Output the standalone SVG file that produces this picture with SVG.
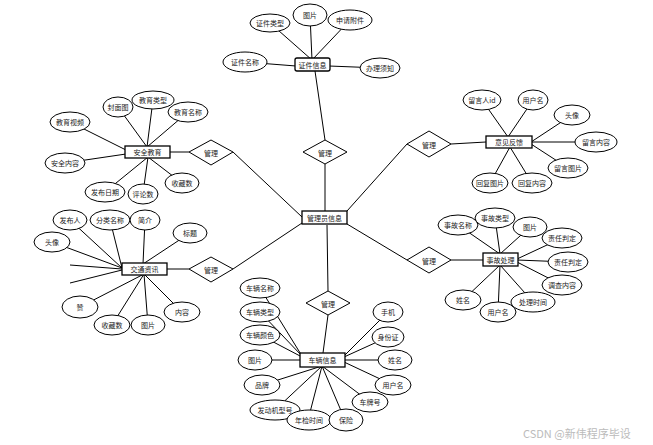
<svg xmlns="http://www.w3.org/2000/svg" width="653" height="445" viewBox="0 0 653 445">
<style>
text{font-family:"Noto Sans CJK SC","Noto Sans",sans-serif;font-size:7px;fill:#222;text-anchor:middle;dominant-baseline:central}
.l{stroke:#000;stroke-width:1;fill:none}
.e{fill:#fff;stroke:#000;stroke-width:1}
.r{fill:#fff;stroke:#000;stroke-width:1.3}
.d{fill:#fff;stroke:#000;stroke-width:1}
.wm{font-family:"Noto Sans CJK SC",sans-serif;font-size:11px;fill:#bbb;text-anchor:start}
</style>
<rect width="653" height="445" fill="#fff"/>
<g id="connectors">
<!-- main -->
<line class="l" x1="315" y1="71" x2="325" y2="140"/>
<line class="l" x1="325" y1="164" x2="325" y2="211"/>
<line class="l" x1="170" y1="152" x2="189" y2="152"/>
<line class="l" x1="233" y1="152" x2="302" y2="217"/>
<line class="l" x1="167" y1="269" x2="189" y2="269"/>
<line class="l" x1="233" y1="269" x2="302" y2="223"/>
<line class="l" x1="347" y1="211" x2="407" y2="144"/>
<line class="l" x1="451" y1="144" x2="486" y2="142"/>
<line class="l" x1="347" y1="224" x2="407" y2="260"/>
<line class="l" x1="451" y1="260" x2="483" y2="260"/>
<line class="l" x1="327" y1="225" x2="328" y2="291"/>
<line class="l" x1="328" y1="315" x2="323" y2="353"/>
<!-- 证件信息 attrs -->
<line class="l" x1="270" y1="23" x2="312" y2="60"/>
<line class="l" x1="310" y1="15" x2="312" y2="60"/>
<line class="l" x1="350" y1="20" x2="312" y2="60"/>
<line class="l" x1="245" y1="62" x2="296" y2="66"/>
<line class="l" x1="380" y1="68" x2="329" y2="66"/>
<!-- 安全教育 attrs -->
<line class="l" x1="118" y1="107" x2="147" y2="147"/>
<line class="l" x1="153" y1="100" x2="147" y2="147"/>
<line class="l" x1="188" y1="112" x2="147" y2="147"/>
<line class="l" x1="70" y1="122" x2="126" y2="150"/>
<line class="l" x1="65" y1="163" x2="126" y2="154"/>
<line class="l" x1="105" y1="192" x2="148" y2="157"/>
<line class="l" x1="143" y1="193" x2="148" y2="157"/>
<line class="l" x1="182" y1="183" x2="148" y2="157"/>
<!-- 交通资讯 attrs -->
<line class="l" x1="70" y1="220" x2="122" y2="268"/>
<line class="l" x1="110" y1="220" x2="122" y2="268"/>
<line class="l" x1="145" y1="220" x2="143" y2="264"/>
<line class="l" x1="190" y1="233" x2="143" y2="264"/>
<line class="l" x1="52" y1="242" x2="122" y2="268"/>
<line class="l" x1="70" y1="265" x2="122" y2="269"/>
<line class="l" x1="70" y1="283" x2="122" y2="270"/>
<line class="l" x1="80" y1="307" x2="144" y2="274"/>
<line class="l" x1="112" y1="325" x2="144" y2="274"/>
<line class="l" x1="148" y1="325" x2="144" y2="274"/>
<line class="l" x1="182" y1="312" x2="144" y2="274"/>
<!-- 意见反馈 attrs -->
<line class="l" x1="482" y1="100" x2="508" y2="137"/>
<line class="l" x1="533" y1="100" x2="508" y2="137"/>
<line class="l" x1="572" y1="115" x2="531" y2="142"/>
<line class="l" x1="595" y1="142" x2="531" y2="142"/>
<line class="l" x1="568" y1="168" x2="531" y2="144"/>
<line class="l" x1="490" y1="183" x2="510" y2="147"/>
<line class="l" x1="532" y1="183" x2="510" y2="147"/>
<!-- 事故处理 attrs -->
<line class="l" x1="458" y1="225" x2="500" y2="254"/>
<line class="l" x1="495" y1="218" x2="500" y2="254"/>
<line class="l" x1="530" y1="227" x2="500" y2="254"/>
<line class="l" x1="562" y1="238" x2="517" y2="259"/>
<line class="l" x1="568" y1="262" x2="517" y2="260"/>
<line class="l" x1="562" y1="285" x2="517" y2="262"/>
<line class="l" x1="533" y1="302" x2="500" y2="265"/>
<line class="l" x1="498" y1="312" x2="500" y2="265"/>
<line class="l" x1="463" y1="300" x2="500" y2="265"/>
<!-- 车辆信息 attrs -->
<line class="l" x1="260" y1="288" x2="302" y2="356"/>
<line class="l" x1="260" y1="312" x2="302" y2="356"/>
<line class="l" x1="260" y1="335" x2="302" y2="357"/>
<line class="l" x1="255" y1="360" x2="301" y2="360"/>
<line class="l" x1="262" y1="385" x2="322" y2="366"/>
<line class="l" x1="275" y1="410" x2="322" y2="366"/>
<line class="l" x1="308" y1="420" x2="322" y2="366"/>
<line class="l" x1="345" y1="420" x2="322" y2="366"/>
<line class="l" x1="370" y1="402" x2="322" y2="366"/>
<line class="l" x1="393" y1="385" x2="344" y2="362"/>
<line class="l" x1="395" y1="360" x2="344" y2="360"/>
<line class="l" x1="388" y1="337" x2="344" y2="357"/>
<line class="l" x1="388" y1="312" x2="344" y2="356"/>
</g>

<g id="admin"><rect class="r" x="302" y="211" width="45" height="13"/><text x="324.5" y="217.5">管理员信息</text></g>

<g id="zjxx"><rect class="r" x="295" y="58" width="35" height="13" rx="2"/><text x="312.5" y="64.5">证件信息</text></g>
<g id="zj_lx"><ellipse class="e" cx="270" cy="23" rx="20" ry="9"/><text x="270" y="23">证件类型</text></g>
<g id="zj_tp"><ellipse class="e" cx="310" cy="15" rx="17" ry="11"/><text x="310" y="15">图片</text></g>
<g id="zj_fj"><ellipse class="e" cx="350" cy="20" rx="22" ry="10"/><text x="350" y="20">申请附件</text></g>
<g id="zj_mc"><ellipse class="e" cx="245" cy="62" rx="22" ry="10"/><text x="245" y="62">证件名称</text></g>
<g id="zj_xz"><ellipse class="e" cx="380" cy="68" rx="20" ry="10"/><text x="380" y="68">办理须知</text></g>

<g id="aqjy"><rect class="r" x="125" y="146" width="45" height="12"/><text x="147.5" y="152">安全教育</text></g>
<g id="aq_fm"><ellipse class="e" cx="118" cy="107" rx="15" ry="10"/><text x="118" y="107">封面图</text></g>
<g id="aq_lx"><ellipse class="e" cx="153" cy="100" rx="21" ry="9"/><text x="153" y="100">教育类型</text></g>
<g id="aq_mc"><ellipse class="e" cx="188" cy="112" rx="20" ry="10"/><text x="188" y="112">教育名称</text></g>
<g id="aq_sp"><ellipse class="e" cx="70" cy="122" rx="20" ry="10"/><text x="70" y="122">教育视频</text></g>
<g id="aq_nr"><ellipse class="e" cx="65" cy="163" rx="20" ry="10"/><text x="65" y="163">安全内容</text></g>
<g id="aq_rq"><ellipse class="e" cx="105" cy="192" rx="20" ry="10"/><text x="105" y="192">发布日期</text></g>
<g id="aq_pl"><ellipse class="e" cx="143" cy="194" rx="15" ry="10"/><text x="143" y="194">评论数</text></g>
<g id="aq_sc"><ellipse class="e" cx="182" cy="183" rx="17" ry="10"/><text x="182" y="183">收藏数</text></g>
<g id="d_aq"><polygon class="d" points="189,152 211,140 233,152 211,165"/><text x="211" y="152.5">管理</text></g>

<g id="jtzx"><rect class="r" x="122" y="263" width="45" height="12"/><text x="144.5" y="269">交通资讯</text></g>
<g id="jt_fbr"><ellipse class="e" cx="70" cy="220" rx="17" ry="10"/><text x="70" y="220">发布人</text></g>
<g id="jt_fl"><ellipse class="e" cx="110" cy="220" rx="20" ry="10"/><text x="110" y="220">分类名称</text></g>
<g id="jt_jj"><ellipse class="e" cx="145" cy="220" rx="15" ry="10"/><text x="145" y="220">简介</text></g>
<g id="jt_bt"><ellipse class="e" cx="190" cy="233" rx="17" ry="10"/><text x="190" y="233">标题</text></g>
<g id="jt_tx"><ellipse class="e" cx="52" cy="242" rx="18" ry="10"/><text x="52" y="242">头像</text></g>
<g id="jt_z"><ellipse class="e" cx="80" cy="307" rx="18" ry="11"/><text x="80" y="307">赞</text></g>
<g id="jt_sc"><ellipse class="e" cx="112" cy="325" rx="18" ry="10"/><text x="112" y="325">收藏数</text></g>
<g id="jt_tp"><ellipse class="e" cx="148" cy="325" rx="17" ry="10"/><text x="148" y="325">图片</text></g>
<g id="jt_nr"><ellipse class="e" cx="182" cy="312" rx="18" ry="10"/><text x="182" y="312">内容</text></g>
<g id="d_jt"><polygon class="d" points="189,269 211,257 233,269 211,282"/><text x="211" y="269.5">管理</text></g>

<g id="d_zj"><polygon class="d" points="303,152 325,140 347,152 325,164"/><text x="325" y="152.5">管理</text></g>

<g id="yjfk"><rect class="r" x="486" y="136" width="46" height="12"/><text x="509" y="142">意见反馈</text></g>
<g id="yj_id"><ellipse class="e" cx="482" cy="100" rx="19" ry="10"/><text x="482" y="100">留言人id</text></g>
<g id="yj_yhm"><ellipse class="e" cx="533" cy="100" rx="15" ry="10"/><text x="533" y="100">用户名</text></g>
<g id="yj_tx"><ellipse class="e" cx="572" cy="115" rx="18" ry="10"/><text x="572" y="115">头像</text></g>
<g id="yj_nr"><ellipse class="e" cx="596" cy="142" rx="21" ry="10"/><text x="596" y="142">留言内容</text></g>
<g id="yj_tp"><ellipse class="e" cx="568" cy="168" rx="20" ry="10"/><text x="568" y="168">留言图片</text></g>
<g id="yj_hftp"><ellipse class="e" cx="490" cy="183" rx="18" ry="10"/><text x="490" y="183">回复图片</text></g>
<g id="yj_hfnr"><ellipse class="e" cx="532" cy="183" rx="20" ry="10"/><text x="532" y="183">回复内容</text></g>
<g id="d_yj"><polygon class="d" points="407,144 429,131 451,144 429,157"/><text x="429" y="144.5">管理</text></g>

<g id="sgcl"><rect class="r" x="483" y="253" width="35" height="13"/><text x="500.5" y="259.5">事故处理</text></g>
<g id="sg_mc"><ellipse class="e" cx="458" cy="225" rx="20" ry="10"/><text x="458" y="225">事故名称</text></g>
<g id="sg_lx"><ellipse class="e" cx="495" cy="218" rx="20" ry="10"/><text x="495" y="218">事故类型</text></g>
<g id="sg_tp"><ellipse class="e" cx="530" cy="227" rx="17" ry="10"/><text x="530" y="227">图片</text></g>
<g id="sg_zr1"><ellipse class="e" cx="562" cy="238" rx="20" ry="10"/><text x="562" y="238">责任判定</text></g>
<g id="sg_zr2"><ellipse class="e" cx="568" cy="262" rx="20" ry="10"/><text x="568" y="262">责任判定</text></g>
<g id="sg_dc"><ellipse class="e" cx="562" cy="285" rx="20" ry="10"/><text x="562" y="285">调查内容</text></g>
<g id="sg_sj"><ellipse class="e" cx="533" cy="302" rx="22" ry="10"/><text x="533" y="302">处理时间</text></g>
<g id="sg_yhm"><ellipse class="e" cx="498" cy="312" rx="18" ry="10"/><text x="498" y="312">用户名</text></g>
<g id="sg_xm"><ellipse class="e" cx="463" cy="300" rx="18" ry="10"/><text x="463" y="300">姓名</text></g>
<g id="d_sg"><polygon class="d" points="407,260 429,247 451,260 429,273"/><text x="429" y="260.5">管理</text></g>

<g id="clxx"><rect class="r" x="300" y="353" width="45" height="14"/><text x="322.5" y="360">车辆信息</text></g>
<g id="cl_mc"><ellipse class="e" cx="260" cy="288" rx="20" ry="10"/><text x="260" y="288">车辆名称</text></g>
<g id="cl_lx"><ellipse class="e" cx="260" cy="312" rx="20" ry="10"/><text x="260" y="312">车辆类型</text></g>
<g id="cl_ys"><ellipse class="e" cx="260" cy="335" rx="20" ry="10"/><text x="260" y="335">车辆颜色</text></g>
<g id="cl_tp"><ellipse class="e" cx="255" cy="360" rx="17" ry="10"/><text x="255" y="360">图片</text></g>
<g id="cl_pp"><ellipse class="e" cx="262" cy="385" rx="18" ry="10"/><text x="262" y="385">品牌</text></g>
<g id="cl_fdj"><ellipse class="e" cx="275" cy="410" rx="25" ry="10"/><text x="275" y="410">发动机型号</text></g>
<g id="cl_nj"><ellipse class="e" cx="309" cy="420" rx="22" ry="10"/><text x="309" y="420">年检时间</text></g>
<g id="cl_bx"><ellipse class="e" cx="346" cy="420" rx="17" ry="11"/><text x="346" y="420">保险</text></g>
<g id="cl_cph"><ellipse class="e" cx="370" cy="402" rx="18" ry="10"/><text x="370" y="402">车牌号</text></g>
<g id="cl_yhm"><ellipse class="e" cx="393" cy="385" rx="18" ry="10"/><text x="393" y="385">用户名</text></g>
<g id="cl_xm"><ellipse class="e" cx="395" cy="360" rx="17" ry="10"/><text x="395" y="360">姓名</text></g>
<g id="cl_sfz"><ellipse class="e" cx="388" cy="337" rx="16" ry="10"/><text x="388" y="337">身份证</text></g>
<g id="cl_sj"><ellipse class="e" cx="388" cy="312" rx="15" ry="10"/><text x="388" y="312">手机</text></g>
<g id="d_cl"><polygon class="d" points="306,303 328,291 350,303 328,315"/><text x="328" y="303.5">管理</text></g>

<text class="wm" x="523" y="433">CSDN @新伟程序毕设</text>
</svg>
